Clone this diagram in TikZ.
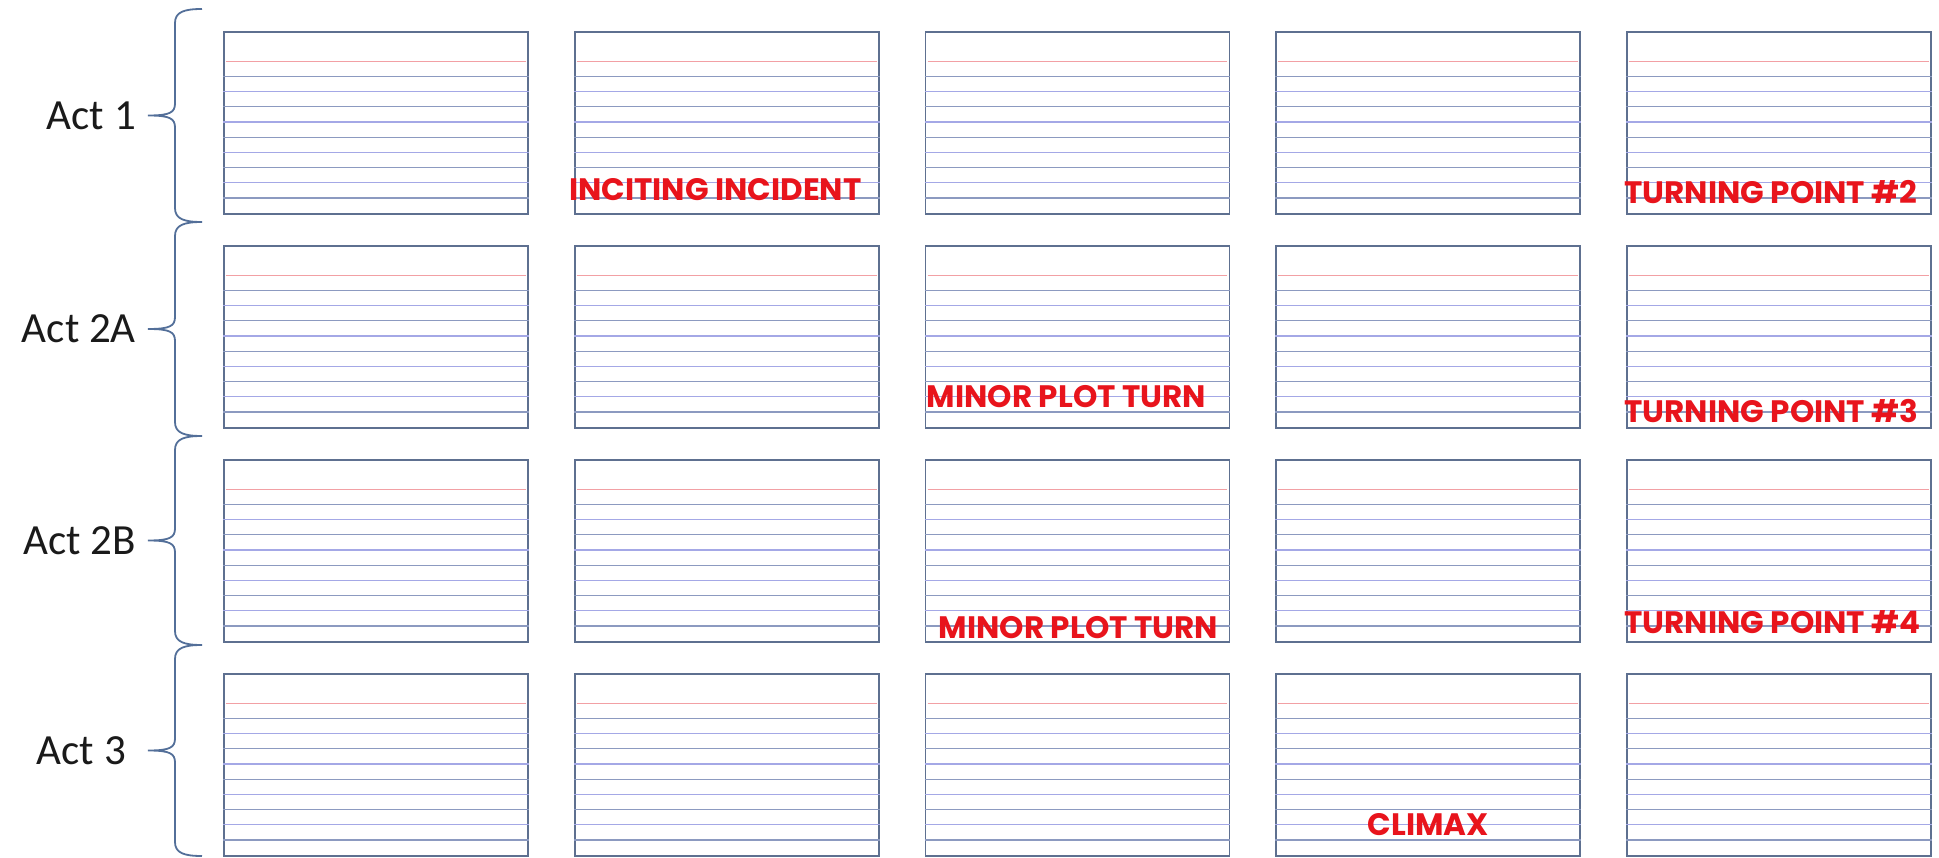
\documentclass[tikz,border=0pt]{standalone}
\usepackage{fontspec}
\setmainfont{Carlito}
\newfontfamily\plotfont{Poppins}
\usetikzlibrary{calc,positioning}
\definecolor{cardedge}{HTML}{5E7090}
\definecolor{rulered}{HTML}{F2A0A4}
\definecolor{rulegray}{HTML}{8C9AC0}
\definecolor{ruleblue}{HTML}{A4A8E6}
\definecolor{bracecol}{HTML}{536F99}
\definecolor{plotred}{HTML}{E8141C}
\definecolor{actblack}{HTML}{1A1A1A}

\begin{document}
\begin{tikzpicture}[x=1pt, y=-1pt,
  card/.style={draw=cardedge, line width=1.6pt, fill=white, inner sep=0pt, minimum width=304pt, minimum height=182pt},
  redrule/.style={draw=rulered, line width=1.3pt},
  grayrule/.style={draw=rulegray, line width=1.3pt},
  bluerule/.style={draw=ruleblue, line width=1.3pt},
  actbrace/.style={draw=bracecol, line width=1.8pt},
  actlabel/.style={font=\fontsize{43}{50}\selectfont, text=actblack, inner sep=0pt},
  plotpoint/.style={font=\plotfont\bfseries\fontsize{31}{36}\selectfont, text=plotred, inner sep=0pt, anchor=base west}]
\useasboundingbox (0,0) rectangle (1939,858);
% index cards, 4 rows x 5 columns
\foreach \r in {1,...,4}{
  \foreach \c in {1,...,5}{
    \node[card] (c\r\c) at ({376+(\c-1)*350.75},{123+(\r-1)*214}) {};
    \draw[redrule] ($(c\r\c.north west)+(3,30)$) -- ($(c\r\c.north east)+(-3,30)$);
    \foreach \k in {1,3,...,9}
      \draw[grayrule] ($(c\r\c.north west)+(0,30+15.2*\k)$) -- ($(c\r\c.north east)+(0,30+15.2*\k)$);
    \foreach \k in {2,4,...,8}
      \draw[bluerule] ($(c\r\c.north west)+(0,30+15.2*\k)$) -- ($(c\r\c.north east)+(0,30+15.2*\k)$);
  }
}
% braces for the acts
\foreach \t/\b/\n in {9/222/1,222/436/2,436/645/3,645/856/4}{
  \pgfmathsetmacro\m{(\t+\b)/2}
  \draw[actbrace] (202,\t) .. controls (184,\t) and (175,\t+3) .. (175,\t+14)
    -- (175,\m-12) .. controls (175,\m-3) and (170,\m) .. (148,\m)
    .. controls (170,\m) and (175,\m+3) .. (175,\m+12)
    -- (175,\b-14) .. controls (175,\b-3) and (184,\b) .. (202,\b);
  \coordinate (tip\n) at (148,\m);
}
\node[actlabel, left=12pt of tip1] (act1) {Act 1};
\node[actlabel, left=12pt of tip2] (act2a) {Act 2A};
\node[actlabel, left=12pt of tip3] (act2b) {Act 2B};
\node[actlabel, left=22pt of tip4] (act3) {Act 3};
% plot points
\node[plotpoint] (incite) at ($(c12.south west)+(-5,-14)$) {INCITING INCIDENT};
\node[plotpoint] (turn2) at ($(c15.south west)+(-2,-11)$) {TURNING POINT \#2};
\node[plotpoint] (minor1) at ($(c23.south west)+(2,-21)$) {MINOR PLOT TURN};
\node[plotpoint] (turn3) at ($(c25.south west)+(-2,-6)$) {TURNING POINT \#3};
\node[plotpoint] (minor2) at ($(c33.south west)+(14,-4)$) {MINOR PLOT TURN};
\node[plotpoint] (turn4) at ($(c35.south west)+(-2,-9)$) {TURNING POINT \#4};
\node[plotpoint] (climax) at ($(c44.south west)+(92,-21)$) {CLIMAX};
\end{tikzpicture}
\end{document}
